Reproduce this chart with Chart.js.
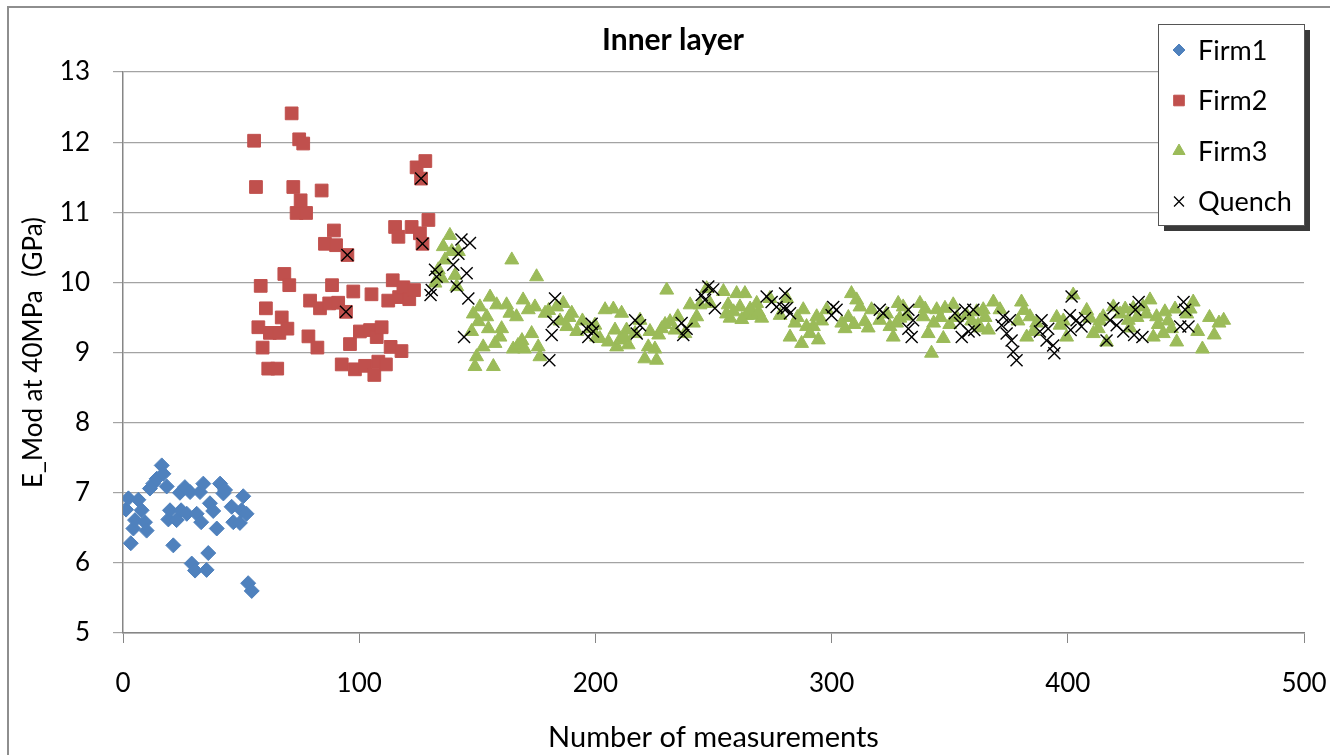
<!DOCTYPE html>
<html>
<head>
<meta charset="utf-8">
<script src="https://cdn.jsdelivr.net/npm/chart.js"></script>
<style>
  body { margin: 0; background: #fff; }
  canvas { display: block; }
</style>
</head>
<body>
<canvas id="myChart" width="1330" height="755"></canvas>
<script>
// data
const chartTitle = "Inner layer";
const seriesNames = ["Firm1", "Firm2", "Firm3", "Quench"];
const xTicks = [0, 100, 200, 300, 400, 500];
const yTicks = [5, 6, 7, 8, 9, 10, 11, 12, 13];

const firm1X = [1.3, 2.3, 3.3, 4.4, 5.1, 6.5, 7.9, 9.3, 10.0, 11.4, 12.8, 14.3, 16.4, 17.1, 18.5, 19.2, 19.9, 21.3, 22.7, 24.1,
  24.6, 26.2, 27.0, 28.4, 29.1, 30.5, 31.2, 32.6, 33.1, 34.0, 35.4, 36.1, 36.8, 38.2, 39.7, 41.1, 42.5, 43.2, 46.0, 46.7,
  49.5, 50.2, 50.9, 52.3, 53.0, 54.5];
const firm1Y = [6.76, 6.92, 6.28, 6.49, 6.61, 6.90, 6.75, 6.58, 6.46, 7.06, 7.13, 7.20, 7.39, 7.27, 7.09, 6.62, 6.75, 6.25, 6.61, 7.00,
  6.75, 7.08, 6.70, 7.01, 5.99, 5.89, 6.70, 7.01, 6.58, 7.13, 5.90, 6.14, 6.85, 6.74, 6.49, 7.13, 6.99, 7.04, 6.80, 6.58,
  6.57, 6.75, 6.95, 6.70, 5.71, 5.60];

const firm2X = [55.5, 56.3, 57.3, 58.3, 59.1, 60.5, 61.5, 62.2, 65.3, 66.2, 67.2, 68.3, 69.6, 70.4, 71.4, 72.1, 73.5, 74.6, 75.2, 76.3,
  77.5, 78.5, 79.2, 82.3, 83.4, 84.1, 85.5, 87.3, 88.5, 89.3, 90.2, 91.1, 92.6, 94.4, 95.0, 96.1, 97.5, 98.2, 100.3, 102.5,
  104.6, 105.2, 106.4, 107.4, 108.1, 109.5, 111.3, 112.3, 113.3, 114.2, 115.2, 116.6, 116.9, 117.9, 118.7, 121.2, 122.2, 123.2, 124.3, 125.7,
  126.2, 126.8, 128.0, 129.3];
const firm2Y = [12.02, 11.36, 9.36, 9.95, 9.07, 9.63, 8.77, 9.28, 8.77, 9.28, 9.50, 10.12, 9.34, 9.96, 12.41, 11.36, 10.99, 12.04, 11.17, 11.98,
  10.99, 9.23, 9.74, 9.07, 9.63, 11.31, 10.55, 9.70, 9.96, 10.74, 10.53, 9.71, 8.83, 9.58, 10.39, 9.12, 9.87, 8.76, 9.30, 8.81,
  9.32, 9.83, 8.68, 9.22, 8.87, 9.36, 8.83, 9.74, 9.08, 10.03, 10.79, 10.65, 9.79, 9.02, 9.93, 9.76, 10.79, 9.89, 11.64, 10.70,
  11.48, 10.55, 11.73, 10.89];

const firm3X = [132.1, 133.5, 134.9, 135.6, 136.3, 138.4, 139.2, 140.6, 141.3, 142.0, 149.0, 149.7, 150.5, 151.1, 152.5, 154.0, 154.7, 155.4, 156.8, 157.5,
  158.2, 159.6, 160.3, 162.4, 163.8, 164.6, 165.2, 166.6, 167.2, 168.9, 169.4, 170.0, 171.6, 173.0, 174.4, 175.1, 175.8, 176.5, 178.7, 183.6,
  186.4, 187.9, 190.0, 192.1, 197.7, 199.8, 200.5, 201.9, 204.1, 207.6, 208.3, 209.0, 210.4, 211.1, 213.2, 213.9, 216.8, 218.9, 220.9, 222.4,
  223.1, 225.2, 225.9, 228.1, 230.2, 231.6, 233.7, 234.9, 237.9, 240.1, 241.5, 242.9, 244.3, 247.1, 248.5, 254.2, 256.2, 257.0, 259.8, 261.2,
  263.3, 264.0, 266.9, 268.3, 270.4, 273.9, 278.2, 281.0, 282.4, 284.5, 287.3, 288.0, 289.4, 292.3, 293.7, 294.4, 297.9, 304.3, 305.7, 308.4,
  310.6, 312.0, 314.1, 316.9, 320.4, 324.7, 326.1, 328.2, 328.9, 330.3, 337.4, 338.8, 340.9, 342.3, 344.5, 347.3, 348.0, 351.5, 357.2, 361.4,
  362.0, 364.2, 366.4, 368.5, 371.3, 380.4, 382.6, 384.0, 386.8, 396.7, 399.5, 402.3, 409.4, 412.9, 415.0, 416.4, 419.3, 425.6, 427.7, 431.9,
  434.8, 436.2, 437.6, 440.4, 441.1, 443.9, 446.1, 453.1, 455.0, 457.0, 460.0, 462.0, 464.0, 466.0,
  147.6, 148.3, 180.2, 185.0, 188.8, 194.5, 205.5, 212.3, 226.8, 229.5, 255.5, 258.5, 262.0, 265.5, 269.0, 285.5, 290.8, 295.8, 307.1, 309.5,
  315.5, 323.3, 327.5, 331.8, 339.6, 343.2, 346.1, 350.0, 353.0, 359.3, 363.0, 365.0, 378.9, 381.5, 385.4, 395.3, 398.1, 408.0, 410.8, 413.6,
  422.1, 424.3, 426.3, 429.3, 433.3, 438.3, 442.5, 445.4, 450.4, 451.8];
const firm3Y = [9.99, 10.18, 10.06, 10.51, 10.32, 10.67, 10.44, 10.10, 9.94, 10.44, 8.80, 8.94, 9.44, 9.65, 9.08, 9.51, 9.34, 9.79, 8.80, 9.13,
  9.68, 9.22, 9.34, 9.68, 9.56, 10.32, 9.05, 9.51, 9.10, 9.17, 9.75, 9.05, 9.61, 9.27, 9.65, 10.08, 9.08, 8.94, 9.56, 9.65,
  9.70, 9.37, 9.56, 9.30, 9.34, 9.39, 9.22, 9.20, 9.61, 9.62, 9.32, 9.08, 9.18, 9.56, 9.32, 9.11, 9.27, 9.46, 8.91, 9.08,
  9.30, 9.05, 8.89, 9.34, 9.89, 9.44, 9.32, 9.51, 9.27, 9.68, 9.42, 9.51, 9.68, 9.91, 9.70, 9.87, 9.68, 9.49, 9.84, 9.65,
  9.84, 9.53, 9.53, 9.70, 9.49, 9.77, 9.53, 9.77, 9.22, 9.42, 9.13, 9.61, 9.37, 9.37, 9.51, 9.18, 9.61, 9.42, 9.34, 9.84,
  9.75, 9.65, 9.44, 9.61, 9.46, 9.37, 9.22, 9.70, 9.49, 9.65, 9.70, 9.51, 9.27, 8.99, 9.61, 9.20, 9.63, 9.68, 9.53, 9.58,
  9.39, 9.61, 9.32, 9.72, 9.61, 9.72, 9.22, 9.51, 9.42, 9.39, 9.22, 9.82, 9.49, 9.34, 9.51, 9.15, 9.65, 9.46, 9.63, 9.65,
  9.75, 9.22, 9.51, 9.27, 9.58, 9.34, 9.15, 9.72, 9.30, 9.05, 9.50, 9.25, 9.42, 9.46,
  9.30, 9.55, 9.60, 9.45, 9.50, 9.45, 9.15, 9.22, 9.25, 9.40, 9.55, 9.58, 9.47, 9.62, 9.58, 9.50, 9.27, 9.45, 9.50, 9.40,
  9.35, 9.55, 9.42, 9.52, 9.62, 9.42, 9.50, 9.40, 9.50, 9.45, 9.35, 9.50, 9.45, 9.60, 9.30, 9.50, 9.45, 9.60, 9.27, 9.45,
  9.55, 9.62, 9.35, 9.50, 9.55, 9.40, 9.45, 9.62, 9.55, 9.62];

const quenchX = [94.4, 95.0, 126.2, 126.8, 130.2, 130.7, 132.1, 132.8, 139.8, 141.3, 142.0, 143.3, 144.4, 145.5, 146.2, 146.9, 180.5, 181.5, 182.2, 182.9,
  196.3, 197.0, 198.4, 199.0, 216.8, 217.5, 218.9, 236.5, 237.2, 238.6, 245.0, 246.4, 247.8, 249.9, 250.6, 272.5, 274.6, 276.7, 279.6, 280.3,
  281.0, 282.4, 300.0, 300.7, 302.1, 320.4, 321.8, 332.5, 332.5, 333.9, 334.5, 352.2, 354.4, 355.1, 356.5, 358.0, 360.0, 360.4, 372.0, 372.7,
  374.1, 375.5, 376.2, 376.9, 378.3, 388.2, 388.9, 391.0, 391.7, 393.8, 394.3, 400.9, 401.2, 401.6, 403.7, 405.8, 407.3, 416.4, 417.9, 419.3,
  420.7, 423.5, 428.1, 428.6, 430.0, 431.6, 447.6, 449.0, 449.7, 451.1];
const quenchY = [9.58, 10.39, 11.48, 10.55, 9.82, 9.89, 10.18, 10.08, 10.25, 9.94, 10.41, 10.61, 9.22, 10.13, 9.77, 10.56, 8.89, 9.25, 9.44, 9.77,
  9.34, 9.22, 9.41, 9.30, 9.46, 9.27, 9.39, 9.42, 9.25, 9.34, 9.82, 9.75, 9.94, 9.90, 9.63, 9.80, 9.72, 9.65, 9.63, 9.84,
  9.63, 9.56, 9.53, 9.65, 9.61, 9.61, 9.56, 9.61, 9.34, 9.22, 9.46, 9.56, 9.42, 9.22, 9.61, 9.30, 9.61, 9.32, 9.39, 9.51,
  9.27, 9.46, 9.17, 9.01, 8.89, 9.30, 9.46, 9.17, 9.34, 9.10, 8.99, 9.53, 9.32, 9.80, 9.46, 9.37, 9.49, 9.17, 9.46, 9.63,
  9.39, 9.30, 9.25, 9.61, 9.72, 9.22, 9.37, 9.72, 9.61, 9.37];

function pts(xs, ys) {
  return xs.map((x, i) => ({ x: x, y: ys[i] }));
}

const FONT = "Lato, 'Open Sans', sans-serif";

// frame, title and legend drawn on top of the library's layout
const decorations = {
  id: "decorations",
  beforeDraw(chart) {
    const ctx = chart.ctx;
    ctx.save();
    ctx.fillStyle = "#fff";
    ctx.fillRect(0, 0, chart.width, chart.height);
    ctx.strokeStyle = "#8e8e8e";
    ctx.lineWidth = 2;
    ctx.strokeRect(8, 7, chart.width + 20, chart.height + 20);
    ctx.restore();
  },
  afterDraw(chart) {
    const ctx = chart.ctx;
    ctx.save();
    ctx.fillStyle = "#000";
    ctx.font = "bold 30px " + FONT;
    ctx.textAlign = "center";
    ctx.textBaseline = "middle";
    ctx.fillText(chartTitle, 673, 40);

    // legend box
    const bx = 1158, by = 24, bw = 146, bh = 201;
    ctx.fillStyle = "#3a3a3a";
    ctx.fillRect(bx + 6, by + 6, bw, bh);
    ctx.fillStyle = "#fff";
    ctx.fillRect(bx, by, bw, bh);
    ctx.strokeStyle = "#555";
    ctx.lineWidth = 1;
    ctx.strokeRect(bx + 0.5, by + 0.5, bw, bh);

    ctx.font = "27px " + FONT;
    ctx.textAlign = "left";
    chart.data.datasets.forEach((ds, i) => {
      const cy = by + 26 + i * 50.5;
      ctx.fillStyle = ds.backgroundColor;
      ctx.strokeStyle = ds.borderColor;
      ctx.lineWidth = ds.pointStyle === "crossRot" ? 1.3 : 1;
      Chart.helpers.drawPoint(ctx, { pointStyle: ds.pointStyle, radius: ds.legendRadius, rotation: 0, borderWidth: ctx.lineWidth }, 1179, cy);
      ctx.fillStyle = "#000";
      ctx.fillText(ds.label, 1198, cy + 1);
    });
    ctx.restore();
  }
};

new Chart(document.getElementById("myChart").getContext("2d"), {
  type: "scatter",
  data: {
    datasets: [{
      label: seriesNames[0],
      data: pts(firm1X, firm1Y),
      pointStyle: "rectRot",
      pointRadius: 7.5,
      legendRadius: 6,
      backgroundColor: "#4f81bd",
      borderColor: "#4f81bd",
      borderWidth: 1,
      order: 3
    }, {
      label: seriesNames[1],
      data: pts(firm2X, firm2Y),
      pointStyle: "rect",
      pointRadius: 9,
      legendRadius: 7.5,
      backgroundColor: "#c0504d",
      borderColor: "#c0504d",
      borderWidth: 1,
      order: 2
    }, {
      label: seriesNames[2],
      data: pts(firm3X, firm3Y),
      pointStyle: "triangle",
      pointRadius: 8,
      legendRadius: 7,
      backgroundColor: "#9bbb59",
      borderColor: "#9bbb59",
      borderWidth: 1,
      order: 1
    }, {
      label: seriesNames[3],
      data: pts(quenchX, quenchY),
      pointStyle: "crossRot",
      pointRadius: 8.5,
      legendRadius: 7,
      backgroundColor: "#000",
      borderColor: "#000",
      borderWidth: 1.4,
      order: 0
    }]
  },
  options: {
    responsive: false,
    animation: false,
    layout: { padding: { left: 0, right: 5, top: 72, bottom: 0 } },
    plugins: {
      legend: { display: false },
      title: { display: false },
      tooltip: { enabled: false }
    },
    scales: {
      x: {
        type: "linear",
        min: xTicks[0],
        max: xTicks[xTicks.length - 1],
        afterBuildTicks: (s) => { s.ticks = xTicks.map(v => ({ value: v })); },
        afterFit: (s) => { s.height = 122; s.paddingRight = 26; s.paddingLeft = 0; },
        grid: { drawOnChartArea: false, drawTicks: true, tickLength: 10, color: "#868686" },
        border: { display: true, color: "#868686", width: 1.5 },
        ticks: { color: "#000", padding: 25, font: { family: FONT, size: 26 } },
        title: { display: true, text: "Number of measurements", color: "#000", padding: { top: 0, bottom: 0 }, font: { family: FONT, size: 29 } }
      },
      y: {
        type: "linear",
        min: yTicks[0],
        max: yTicks[yTicks.length - 1],
        afterBuildTicks: (s) => { s.ticks = yTicks.map(v => ({ value: v })); },
        afterFit: (s) => { s.width = 123; },
        grid: { color: "#a3a3a3", lineWidth: 1.2, tickLength: 10 },
        border: { display: true, color: "#868686", width: 1.5 },
        ticks: { color: "#000", padding: 23, font: { family: FONT, size: 26 } },
        title: { display: true, text: "E_Mod at 40MPa  (GPa)", color: "#000", padding: { top: 18, bottom: 0 }, font: { family: FONT, size: 26 } }
      }
    }
  },
  plugins: [decorations]
});
</script>
</body>
</html>
